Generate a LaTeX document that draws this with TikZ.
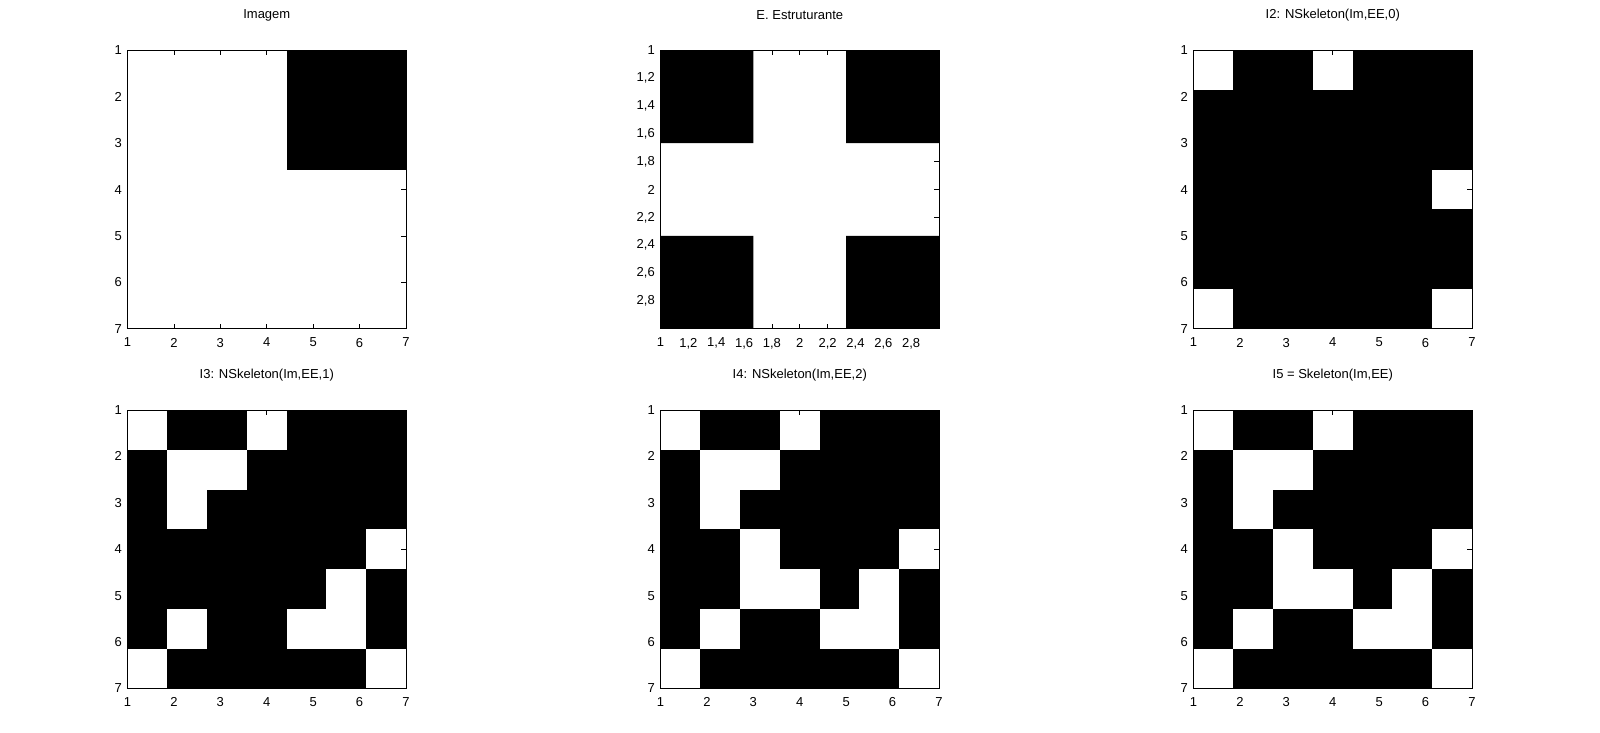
\documentclass[tikz,border=0pt]{standalone}
\usepackage{fontspec}
\setmainfont{Liberation Sans}
\tikzset{
  axlbl/.style={inner sep=0pt,font=\fontsize{13}{15}\selectfont},
  axttl/.style={inner sep=0pt,font=\fontsize{13}{15}\selectfont},
  axbox/.style={draw=black,line width=0.8pt},
  axtick/.style={black,line width=0.8pt},
  pxon/.style={fill=black},
  pxoff/.style={fill=white},
}
\begin{document}
\begin{tikzpicture}[x=1pt,y=-1pt]
    \useasboundingbox[fill=white] (0,0) rectangle (1600,733);

    \node[axttl] (tim) at (266.8,15) {Imagem};
    \node[axttl] (tee) at (799.8,15) {E. Estruturante};
    \node[axttl] (ti2) at (1332.8,15) {I2: NSkeleton(Im,EE,0)};
    \node[axttl] (ti3) at (266.8,375) {I3: NSkeleton(Im,EE,1)};
    \node[axttl] (ti4) at (799.8,375) {I4: NSkeleton(Im,EE,2)};
    \node[axttl] (ti5) at (1332.8,375) {I5 = Skeleton(Im,EE)};

    \begin{scope}[shift={(127.5,50.3)},x=39.786pt,y=-39.786pt]
        \fill[pxon] (4,0) rectangle (7,3);
        \draw[axbox] (0,0) rectangle (7,7);
        \foreach \i [evaluate=\i as \p using (\i-1)*7/6] in {1,...,7} {
            \draw[axtick] (\p,0) -- ++(0,-5pt) (\p,7) -- ++(0,5pt) (7,\p) -- ++(-5pt,0);
            \node[axlbl,anchor=north,yshift=-9pt] (imx\i) at (\p,7) {\i};
            \node[axlbl,anchor=east,xshift=-5.5pt] (imy\i) at (0,\p) {\i};
        }
    \end{scope}

    \begin{scope}[shift={(660.5,50.3)},x=92.833pt,y=-92.833pt]
        \fill[pxon] (0,0) rectangle (1,1) (2,0) rectangle (3,1) (0,2) rectangle (1,3) (2,2) rectangle (3,3);
        \draw[axbox] (0,0) rectangle (3,3);
        \foreach \p/\t [count=\k] in {0/1,0.3/{1,2},0.6/{1,4},0.9/{1,6},1.2/{1,8},1.5/2,1.8/{2,2},2.1/{2,4},2.4/{2,6},2.7/{2,8}} {
            \draw[axtick] (\p,0) -- ++(0,-5pt) (\p,3) -- ++(0,5pt) (3,\p) -- ++(-5pt,0);
            \node[axlbl,anchor=north,yshift=-9pt] (eex\k) at (\p,3) {\t};
            \node[axlbl,anchor=east,xshift=-5.5pt] (eey\k) at (0,\p) {\t};
        }
    \end{scope}

    \begin{scope}[shift={(1193.5,50.3)},x=39.786pt,y=-39.786pt]
        \fill[pxon] (0,0) rectangle (7,7);
        \foreach \r/\c in {1/1,1/4,4/7,7/1,7/7}
            \fill[pxoff] (\c-1,\r-1) rectangle (\c,\r);
        \draw[axbox] (0,0) rectangle (7,7);
        \foreach \i [evaluate=\i as \p using (\i-1)*7/6] in {1,...,7} {
            \draw[axtick] (\p,0) -- ++(0,-5pt) (\p,7) -- ++(0,5pt) (7,\p) -- ++(-5pt,0);
            \node[axlbl,anchor=north,yshift=-9pt] (i2x\i) at (\p,7) {\i};
            \node[axlbl,anchor=east,xshift=-5.5pt] (i2y\i) at (0,\p) {\i};
        }
    \end{scope}

    \begin{scope}[shift={(127.5,410)},x=39.786pt,y=-39.786pt]
        \fill[pxon] (0,0) rectangle (7,7);
        \foreach \r/\c in {1/1,1/4,2/2,2/3,3/2,4/7,5/6,6/2,6/5,6/6,7/1,7/7}
            \fill[pxoff] (\c-1,\r-1) rectangle (\c,\r);
        \draw[axbox] (0,0) rectangle (7,7);
        \foreach \i [evaluate=\i as \p using (\i-1)*7/6] in {1,...,7} {
            \draw[axtick] (\p,0) -- ++(0,-5pt) (\p,7) -- ++(0,5pt) (7,\p) -- ++(-5pt,0);
            \node[axlbl,anchor=north,yshift=-9pt] (i3x\i) at (\p,7) {\i};
            \node[axlbl,anchor=east,xshift=-5.5pt] (i3y\i) at (0,\p) {\i};
        }
    \end{scope}

    \begin{scope}[shift={(660.5,410)},x=39.786pt,y=-39.786pt]
        \fill[pxon] (0,0) rectangle (7,7);
        \foreach \r/\c in {1/1,1/4,2/2,2/3,3/2,4/3,4/7,5/3,5/4,5/6,6/2,6/5,6/6,7/1,7/7}
            \fill[pxoff] (\c-1,\r-1) rectangle (\c,\r);
        \draw[axbox] (0,0) rectangle (7,7);
        \foreach \i [evaluate=\i as \p using (\i-1)*7/6] in {1,...,7} {
            \draw[axtick] (\p,0) -- ++(0,-5pt) (\p,7) -- ++(0,5pt) (7,\p) -- ++(-5pt,0);
            \node[axlbl,anchor=north,yshift=-9pt] (i4x\i) at (\p,7) {\i};
            \node[axlbl,anchor=east,xshift=-5.5pt] (i4y\i) at (0,\p) {\i};
        }
    \end{scope}

    \begin{scope}[shift={(1193.5,410)},x=39.786pt,y=-39.786pt]
        \fill[pxon] (0,0) rectangle (7,7);
        \foreach \r/\c in {1/1,1/4,2/2,2/3,3/2,4/3,4/7,5/3,5/4,5/6,6/2,6/5,6/6,7/1,7/7}
            \fill[pxoff] (\c-1,\r-1) rectangle (\c,\r);
        \draw[axbox] (0,0) rectangle (7,7);
        \foreach \i [evaluate=\i as \p using (\i-1)*7/6] in {1,...,7} {
            \draw[axtick] (\p,0) -- ++(0,-5pt) (\p,7) -- ++(0,5pt) (7,\p) -- ++(-5pt,0);
            \node[axlbl,anchor=north,yshift=-9pt] (i5x\i) at (\p,7) {\i};
            \node[axlbl,anchor=east,xshift=-5.5pt] (i5y\i) at (0,\p) {\i};
        }
    \end{scope}
\end{tikzpicture}
\end{document}
